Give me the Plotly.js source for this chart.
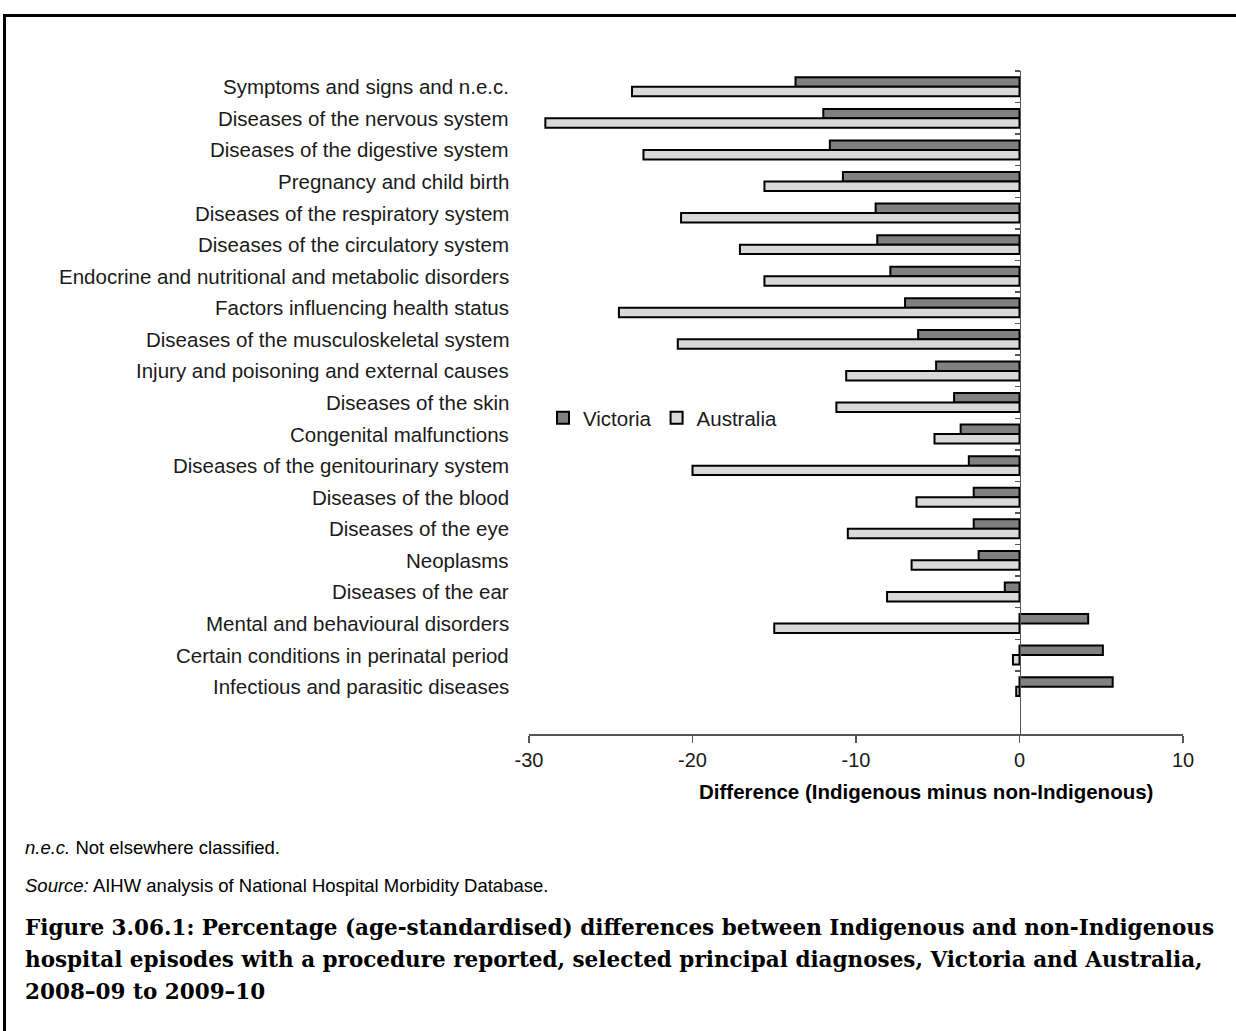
<!DOCTYPE html>
<html>
<head>
<meta charset="utf-8">
<script src="https://cdn.plot.ly/plotly-3.0.1.min.js"></script>
<style>
  html, body { margin: 0; padding: 0; background: #fff; }
  #wrap { position: relative; width: 1236px; height: 1031px; overflow: hidden; }
  #chart { position: absolute; left: 0; top: 0; width: 1236px; height: 1031px; }
  #frame { position: absolute; left: 3px; top: 14px; width: 1240px; height: 1040px;
           border-top: 3px solid #000; border-left: 3px solid #000; pointer-events: none; z-index: 5; }
</style>
</head>
<body>
<div id="wrap">
  <div id="chart"></div>
  <div id="frame"></div>
</div>
<script>
// ---- Data ----
const categories = [
  "Symptoms and signs and n.e.c.",
  "Diseases of the nervous system",
  "Diseases of the digestive system",
  "Pregnancy and child birth",
  "Diseases of the respiratory system",
  "Diseases of the circulatory system",
  "Endocrine and nutritional and metabolic disorders",
  "Factors influencing health status",
  "Diseases of the musculoskeletal system",
  "Injury and poisoning and external causes",
  "Diseases of the skin",
  "Congenital malfunctions",
  "Diseases of the genitourinary system",
  "Diseases of the blood",
  "Diseases of the eye",
  "Neoplasms",
  "Diseases of the ear",
  "Mental and behavioural disorders",
  "Certain conditions in perinatal period",
  "Infectious and parasitic diseases"
];
const victoria = [-13.7, -12.0, -11.6, -10.8, -8.8, -8.7, -7.9, -7.0, -6.2, -5.1,
                  -4.0, -3.6, -3.1, -2.8, -2.8, -2.5, -0.9, 4.2, 5.1, 5.7];
const australia = [-23.7, -29.0, -23.0, -15.6, -20.7, -17.1, -15.6, -24.5, -20.9, -10.6,
                   -11.2, -5.2, -20.0, -6.3, -10.5, -6.6, -8.1, -15.0, -0.4, -0.2];
const seriesNames = ["Victoria", "Australia"];
const xTicks = [-30, -20, -10, 0, 10];
const xTitle = "Difference (Indigenous minus non-Indigenous)";
const footnote1 = "<i>n.e.c.</i> Not elsewhere classified.";
const footnote2 = "<i>Source:</i> AIHW analysis of National Hospital Morbidity Database.";
const captionLines = [
  "Figure 3.06.1: Percentage (age-standardised) differences between Indigenous and non-Indigenous",
  "hospital episodes with a procedure reported, selected principal diagnoses, Victoria and Australia,",
  "2008–09 to 2009–10"
];

// ---- Geometry helpers (pixel -> paper) ----
const W = 1236, H = 1031;
const L = 529, R = 1183, T = 71, B = 734;
const px = v => (v - L) / (R - L);
const py = v => (B - v) / (B - T);

const sans = "Liberation Sans, Arial, sans-serif";
const serif = "DejaVu Serif, serif";

const traces = [
  {
    type: "bar", orientation: "h", name: seriesNames[0],
    x: victoria, y: categories,
    marker: { color: "#808080", line: { color: "#000", width: 2 } },
    hoverinfo: "x+y"
  },
  {
    type: "bar", orientation: "h", name: seriesNames[1],
    x: australia, y: categories,
    marker: { color: "#d9d9d9", line: { color: "#000", width: 2 } },
    hoverinfo: "x+y"
  }
];

const annotations = categories.map(c => ({
  xref: "paper", yref: "y", x: px(511), y: c, xanchor: "right", yanchor: "middle",
  text: c, showarrow: false, font: { family: sans, size: 20.5, color: "#1a1a1a" }
}));

annotations.push({
  xref: "paper", yref: "paper", x: px(926), y: py(791), xanchor: "center", yanchor: "middle",
  text: "<b>" + xTitle + "</b>", showarrow: false, font: { family: sans, size: 20.5, color: "#000" }
});
annotations.push({
  xref: "paper", yref: "paper", x: px(23), y: py(847), xanchor: "left", yanchor: "middle",
  text: footnote1, showarrow: false, font: { family: sans, size: 18.5, color: "#000" }
});
annotations.push({
  xref: "paper", yref: "paper", x: px(23), y: py(885), xanchor: "left", yanchor: "middle",
  text: footnote2, showarrow: false, font: { family: sans, size: 18.5, color: "#000" }
});
captionLines.forEach((t, i) => {
  annotations.push({
    xref: "paper", yref: "paper", x: px(23), y: py(927 + i * 32), xanchor: "left", yanchor: "middle",
    text: "<b>" + t + "</b>", showarrow: false, font: { family: serif, size: 21.5, color: "#000" }
  });
});

const layout = {
  width: W, height: H,
  margin: { l: L, r: W - R, t: T, b: H - B, pad: 0 },
  paper_bgcolor: "#fff", plot_bgcolor: "rgba(0,0,0,0)",
  barmode: "group", bargap: 0.4, bargroupgap: 0,
  showlegend: true,
  legend: {
    orientation: "h", x: px(543), y: py(418), xanchor: "left", yanchor: "middle",
    font: { family: sans, size: 20.5, color: "#1a1a1a" }, bgcolor: "rgba(0,0,0,0)",
    traceorder: "normal"
  },
  xaxis: {
    range: [-30, 10], tickvals: xTicks, ticktext: xTicks.map(String),
    showgrid: false, zeroline: false, showline: true, linecolor: "#555", linewidth: 1.5,
    ticks: "outside", ticklen: 7, tickwidth: 1.5, tickcolor: "#555",
    tickfont: { family: sans, size: 20, color: "#1a1a1a" }, anchor: "y"
  },
  yaxis: {
    type: "category", categoryorder: "array", categoryarray: categories,
    range: [20.5, -0.5], anchor: "free", position: px(1019.5),
    showgrid: false, zeroline: false, showline: true, linecolor: "#555", linewidth: 1.5,
    ticks: "outside", tickson: "boundaries", ticklen: 5, tickwidth: 1.5, tickcolor: "#555",
    showticklabels: false
  },
  annotations: annotations,
  font: { family: sans }
};

Plotly.newPlot("chart", traces, layout, { displayModeBar: false, staticPlot: true });
</script>
</body>
</html>
